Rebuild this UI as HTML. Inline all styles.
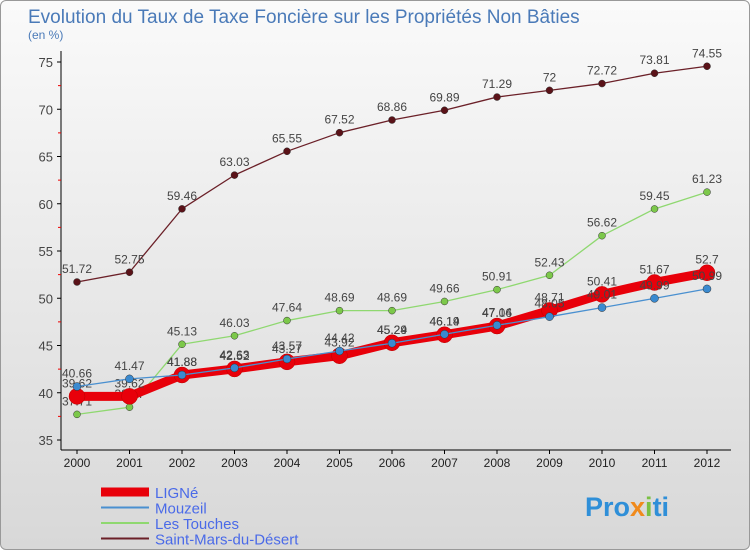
<!DOCTYPE html>
<html><head><meta charset="utf-8"><style>
body{margin:0;width:750px;height:550px;overflow:hidden;font-family:"Liberation Sans",sans-serif}
#c{position:absolute;left:0;top:0;width:748px;height:548px;border:1px solid #999;border-radius:6px;background:linear-gradient(#fafafa,#d8d8d8)}
</style></head><body>
<div id="c">
<svg id="s" width="750" height="550" style="position:absolute;left:0;top:0">
<text x="27" y="22" font-size="19" fill="#4a7ab8">Evolution du Taux de Taxe Foncière sur les Propriétés Non Bâties</text>
<text x="27" y="38" font-size="12" fill="#4a7ab8">(en %)</text>
<g id="axes"></g><g id="series"></g><g id="legend"></g>
<text x="584" y="515" font-size="27" font-weight="bold" fill="#2f8fd8">Pro<tspan fill="#f08a1c">x</tspan><tspan fill="#7ac043">i</tspan>ti</text>
</svg></div>
<script>
const years=[2000,2001,2002,2003,2004,2005,2006,2007,2008,2009,2010,2011,2012];
const yTicks=[35,40,45,50,55,60,65,70,75];
const ligne=[39.62,39.62,41.88,42.52,43.27,43.92,45.29,46.14,47.06,48.71,50.41,51.67,52.7];
const mouzeil=[40.66,41.47,41.88,42.63,43.57,44.42,45.24,46.19,47.14,48.05,49.01,49.99,50.99];
const touches=[37.71,38.47,45.13,46.03,47.64,48.69,48.69,49.66,50.91,52.43,56.62,59.45,61.23];
const stmars=[51.72,52.75,59.46,63.03,65.55,67.52,68.86,69.89,71.29,72,72.72,73.81,74.55];
const NS='http://www.w3.org/2000/svg';
const X=i=>76+i*52.5;
const Y=v=>439-(v-35)*9.45;
function mk(p,t,a){const e=document.createElementNS(NS,t);for(const k in a)e.setAttribute(k,a[k]);p.appendChild(e);return e;}
const ax=document.getElementById('axes');
let l=mk(ax,'line',{x1:60,y1:50,x2:60,y2:449,stroke:'#000'});


l=mk(ax,'line',{x1:60,y1:449,x2:730,y2:449,stroke:'#000'});


yTicks.forEach(v=>{
  mk(ax,'line',{x1:56,y1:Y(v),x2:60,y2:Y(v),stroke:'#000'});
  if(v<75)mk(ax,'line',{x1:57,y1:Y(v+2.5),x2:60,y2:Y(v+2.5),stroke:'#e00'});
  const t=mk(ax,'text',{x:52,y:Y(v)+5,'font-size':13,fill:'#444','text-anchor':'end'});t.textContent=v;
  
  
});
years.forEach((y,i)=>{
  mk(ax,'line',{x1:X(i),y1:449,x2:X(i),y2:453,stroke:'#000'});
  const t=mk(ax,'text',{x:X(i),y:466,'font-size':12,fill:'#222','text-anchor':'middle'});t.textContent=y;
  
  
});
const sg=document.getElementById('series');
const defs=[
 {n:'Saint-Mars-du-Désert',d:stmars,c:'#6b2028',w:1.3,r:3.5,f:'#5a1218',name:'series-saint-mars'},
 {n:'Les Touches',d:touches,c:'#8fd870',w:1.3,r:3.5,f:'#7cc84a',name:'series-les-touches'},
 {n:'LIGNé',d:ligne,c:'#e8000a',w:9,r:8,f:'#e8000a',name:'series-ligne'},
 {n:'Mouzeil',d:mouzeil,c:'#4a90d0',w:1.3,r:4,f:'#3a8ad0',name:'series-mouzeil'}];
defs.forEach(s=>{
  const g=mk(sg,'g',{});
  
  
  const p=mk(g,'polyline',{points:s.d.map((v,i)=>X(i)+','+Y(v)).join(' '),fill:'none',stroke:s.c,'stroke-width':s.w,'stroke-linejoin':'round'});
  
  
  s.d.forEach((v,i)=>{
    const c=mk(g,'circle',{cx:X(i),cy:Y(v),r:s.r,fill:s.f,stroke:s.name=='series-ligne'?'#b00':'#333','stroke-width':0.5});
    
    
    const t=mk(g,'text',{x:X(i),y:Y(v)-9,'font-size':12,fill:'#444','text-anchor':'middle'});t.textContent=v;
    
    
  });
});
const lg=document.getElementById('legend');
[['LIGNé','#e8000a',9],['Mouzeil','#4a90d0',2],['Les Touches','#8fd870',2],['Saint-Mars-du-Désert','#6b2028',2]].forEach((e,i)=>{
  const y=491+i*15.5;
  mk(lg,'line',{x1:100,y1:y,x2:148,y2:y,stroke:e[1],'stroke-width':e[2]});
  const t=mk(lg,'text',{x:154,y:y+6,'font-size':15,fill:'#4a6ae8'});t.textContent=e[0];
  
  
});
</script></body></html>
